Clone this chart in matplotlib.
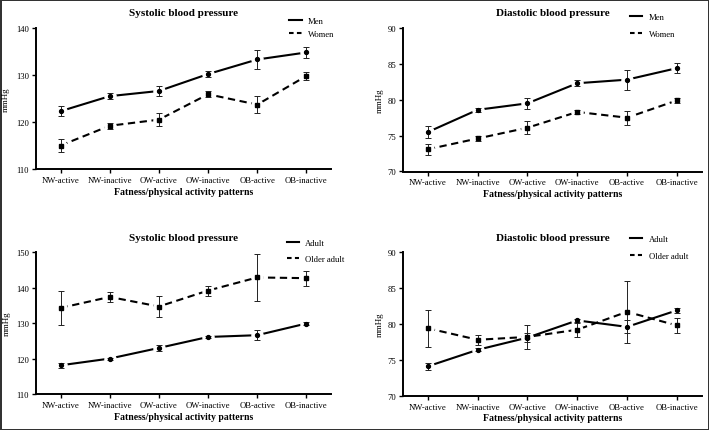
import matplotlib
matplotlib.use("Agg")
import matplotlib.pyplot as plt
from matplotlib.lines import Line2D
import numpy as np

matplotlib.rc('font', family='Liberation Serif', size=6)

categories = ['NW-active', 'NW-inactive', 'OW-active', 'OW-inactive', 'OB-active', 'OB-inactive']

# top row: by sex
sbp_men = [122.3, 125.5, 126.6, 130.2, 133.3, 134.8]
sbp_men_err = [1.1, 0.6, 1.0, 0.6, 2.1, 1.1]
sbp_women = [115.0, 119.2, 120.5, 125.9, 123.7, 129.8]
sbp_women_err = [1.3, 0.6, 1.4, 0.6, 1.8, 0.8]

dbp_men = [75.5, 78.6, 79.5, 82.3, 82.8, 84.4]
dbp_men_err = [0.8, 0.3, 0.8, 0.4, 1.4, 0.7]
dbp_women = [73.1, 74.6, 76.1, 78.3, 77.5, 79.9]
dbp_women_err = [0.8, 0.3, 0.9, 0.3, 1.0, 0.4]

# bottom row: by age group
sbp_adult = [118.1, 120.0, 123.0, 126.1, 126.6, 129.9]
sbp_adult_err = [0.7, 0.3, 0.8, 0.4, 1.4, 0.5]
sbp_older = [134.3, 137.4, 134.7, 139.2, 142.9, 142.7]
sbp_older_err = [4.9, 1.4, 3.0, 1.4, 6.6, 2.1]

dbp_adult = [74.1, 76.4, 78.1, 80.5, 79.6, 81.9]
dbp_adult_err = [0.5, 0.2, 0.6, 0.2, 0.9, 0.3]
dbp_older = [79.4, 77.8, 78.2, 79.2, 81.7, 79.8]
dbp_older_err = [2.6, 0.7, 1.7, 1.0, 4.3, 1.05]

panels = [
    # rect, title, ylim, yticks, series, labels, legend anchor, label spacing, ylabel x, xlabel y
    ([36/709, 261/431, 295/709, 141/431], 'Systolic blood pressure', (110, 140), [110, 120, 130, 140],
     [(sbp_men, sbp_men_err), (sbp_women, sbp_women_err)], ['Men', 'Women'], (0.858, 1.08), 0.6, -0.088, -0.125),
    ([403/709, 258.5/431, 298.7/709, 143.5/431], 'Diastolic blood pressure', (70, 90), [70, 75, 80, 85, 90],
     [(dbp_men, dbp_men_err), (dbp_women, dbp_women_err)], ['Men', 'Women'], (0.76, 1.105), 1.05, -0.064, -0.12),
    ([36/709, 36/431, 295/709, 141.7/431], 'Systolic blood pressure', (110, 150), [110, 120, 130, 140, 150],
     [(sbp_adult, sbp_adult_err), (sbp_older, sbp_older_err)], ['Adult', 'Older adult'], (0.85, 1.095), 0.95, -0.085, -0.125),
    ([403/709, 34.3/431, 298.7/709, 143.4/431], 'Diastolic blood pressure', (70, 90), [70, 75, 80, 85, 90],
     [(dbp_adult, dbp_adult_err), (dbp_older, dbp_older_err)], ['Adult', 'Older adult'], (0.76, 1.118), 1.0, -0.064, -0.12),
]

fig = plt.figure(figsize=(7.09, 4.31), dpi=100)
fig.patch.set_edgecolor('#333333')
fig.patch.set_linewidth(2)

x = np.arange(len(categories))
styles = [dict(ls='-', marker='o', ms=2.8), dict(ls=(0, (3.5, 2.2)), marker='s', ms=3.2)]
legend_ls = ['-', (0, (2.2, 1.6))]

for rect, title, ylim, yticks, series, labels, anchor, lsp, ylx, xly in panels:
    ax = fig.add_axes(rect)
    for (vals, errs), st in zip(series, styles):
        ax.plot(x, vals, color='black', lw=1.5, ls=st['ls'], zorder=1)
        # white halo so lines stop short of the points
        ax.plot(x, vals, ls='none', marker='o', ms=8, mfc='white', mec='white', zorder=2)
    for (vals, errs), st in zip(series, styles):
        ax.errorbar(x, vals, yerr=errs, fmt='none', ecolor='#222222', elinewidth=0.7,
                    capsize=2, capthick=0.7, zorder=3)
        ax.plot(x, vals, ls='none', marker=st['marker'], ms=st['ms'], color='black', zorder=4)

    ax.set_xlim(-0.5, 5.5)
    ax.set_ylim(*ylim)
    ax.set_yticks(yticks)
    ax.set_xticks(x)
    ax.set_xticklabels(categories)
    for s in ['top', 'right']:
        ax.spines[s].set_visible(False)
    for s in ['left', 'bottom']:
        ax.spines[s].set_linewidth(1.4)
    ax.tick_params(length=3, width=1, labelsize=6.2, pad=2)
    ax.set_title(title, fontsize=8, fontweight='bold', pad=9)
    ax.set_ylabel('mmHg', fontsize=6.5)
    ax.yaxis.set_label_coords(ylx, 0.5)
    ax.set_xlabel('Fatness/physical activity patterns', fontsize=7, fontweight='bold')
    ax.xaxis.set_label_coords(0.5, xly)

    handles = [Line2D([], [], color='black', lw=1.5, ls=legend_ls[0]),
               Line2D([], [], color='black', lw=1.5, ls=legend_ls[1])]
    ax.legend(handles, labels, loc='upper left', bbox_to_anchor=anchor, frameon=False,
              fontsize=6.2, handlelength=1.45, handletextpad=0.7, labelspacing=lsp,
              borderpad=0, borderaxespad=0)

fig.savefig('out.png', dpi=100)
